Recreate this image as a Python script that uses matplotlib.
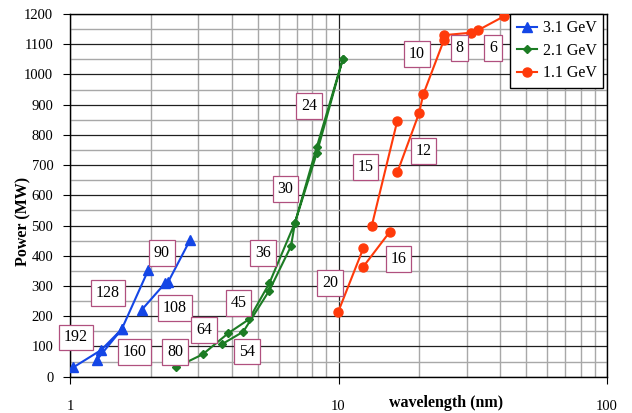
import numpy as np
import matplotlib
matplotlib.use('Agg')
import matplotlib.pyplot as plt
from matplotlib.ticker import MultipleLocator, LogLocator, NullFormatter

plt.rcParams['font.family'] = ['Liberation Serif', 'DejaVu Serif']
plt.rcParams['font.size'] = 10.5

# wavelength (nm) / power (MW); nan = break in the line
wl_31 = [1.029, 1.305, 1.558, 1.957, np.nan, 1.257, 1.558, np.nan, 1.849, 2.259, 2.323, 2.799]
pw_31 = [31, 88, 157, 353, np.nan, 55, 157, np.nan, 221, 309, 314, 452]

wl_21 = [2.482, 3.121, 3.887, 4.642, 5.524, 6.887, 8.295, 10.37, np.nan,
         3.673, 4.42, 5.524, 6.656, 6.887, 8.295, 10.37]
pw_21 = [31, 74, 144, 190, 309, 510, 759, 1050, np.nan,
         107, 149, 285, 432, 510, 739, 1050]

wl_11 = [9.98, 12.37, np.nan, 12.37, 15.55, np.nan, 13.3, 16.56, np.nan,
         16.56, 19.94, 20.69, 24.7, 24.7, 31.08, 33.2, 41.45]
pw_11 = [215, 425, np.nan, 364, 480, np.nan, 499, 847, np.nan,
         676, 871, 934, 1114, 1130, 1138, 1147, 1193]

# boxed labels
lbl_text = ['192', '128', '90', '108', '160', '80', '64', '45', '54', '36', '30', '24',
            '20', '16', '15', '12', '10', '8', '6']
lbl_x = [1.053, 1.385, 2.201, 2.461, 1.739, 2.461, 3.155, 4.243, 4.562, 5.234, 6.349, 7.766,
         9.296, 16.73, 12.61, 20.73, 19.61, 28.23, 37.62]
lbl_y = [130, 277, 410, 227, 82, 82, 155, 244, 83, 410, 621, 896,
         310, 389, 694, 747, 1068, 1088, 1088]

fig = plt.figure(figsize=(6.32, 4.13), dpi=100)
ax = fig.add_axes([70 / 632, 1 - 376.7 / 413, 537 / 632, 362.7 / 413])

ax.set_xscale('log')
ax.set_xlim(1, 100)
ax.set_ylim(0, 1200)

# grid
ax.yaxis.set_major_locator(MultipleLocator(100))
ax.yaxis.set_minor_locator(MultipleLocator(50))
ax.xaxis.set_major_locator(LogLocator(base=10))
ax.xaxis.set_minor_locator(LogLocator(base=10, subs=np.arange(2, 10)))
ax.xaxis.set_minor_formatter(NullFormatter())
ax.grid(which='major', color='#202020', lw=0.9)
ax.grid(which='minor', color='#a8a8a8', lw=1.0)
ax.set_axisbelow(True)

ax.set_xticks([1, 10, 100])
ax.set_xticklabels(['1', '10', '100'])
ax.tick_params(which='major', direction='out', length=5, width=0.8, color='black')
ax.tick_params(axis='x', which='major', pad=12)
ax.tick_params(axis='y', which='major', pad=7)
ax.tick_params(which='minor', length=0)
for s in ax.spines.values():
    s.set_color('black')
    s.set_linewidth(1.0)

ax.plot(wl_31, pw_31, color='#1446e6', marker='^', ms=6.5, lw=1.5, label='3.1 GeV', zorder=3)
ax.plot(wl_21, pw_21, color='#1c7c24', marker='D', ms=4, lw=1.5, label='2.1 GeV', zorder=3)
ax.plot(wl_11, pw_11, color='#ff3a0a', marker='o', ms=6.5, lw=1.5, label='1.1 GeV', zorder=3)

for t, x, y in zip(lbl_text, lbl_x, lbl_y):
    ax.text(x, y, t, ha='center', va='center', fontsize=11.5, zorder=4, clip_on=False,
            bbox=dict(boxstyle='square,pad=0.3', fc='white', ec='#b0507f', lw=0.9))

ax.set_ylabel('Power (MW)', fontweight='bold', fontsize=11.5)
ax.yaxis.set_label_coords(-0.071, 0.427)
ax.set_xlabel('wavelength (nm)', fontweight='bold', fontsize=11.5)
ax.xaxis.set_label_coords(0.70, -0.050)

leg = ax.legend(loc='upper right', bbox_to_anchor=(0.993, 1.0), borderaxespad=0,
                fancybox=False, edgecolor='black', framealpha=1, fontsize=11.5,
                handlelength=1.3, labelspacing=0.4, borderpad=0.4, handletextpad=0.35)
leg.get_frame().set_linewidth(1.0)

fig.savefig('out.png', dpi=100)
